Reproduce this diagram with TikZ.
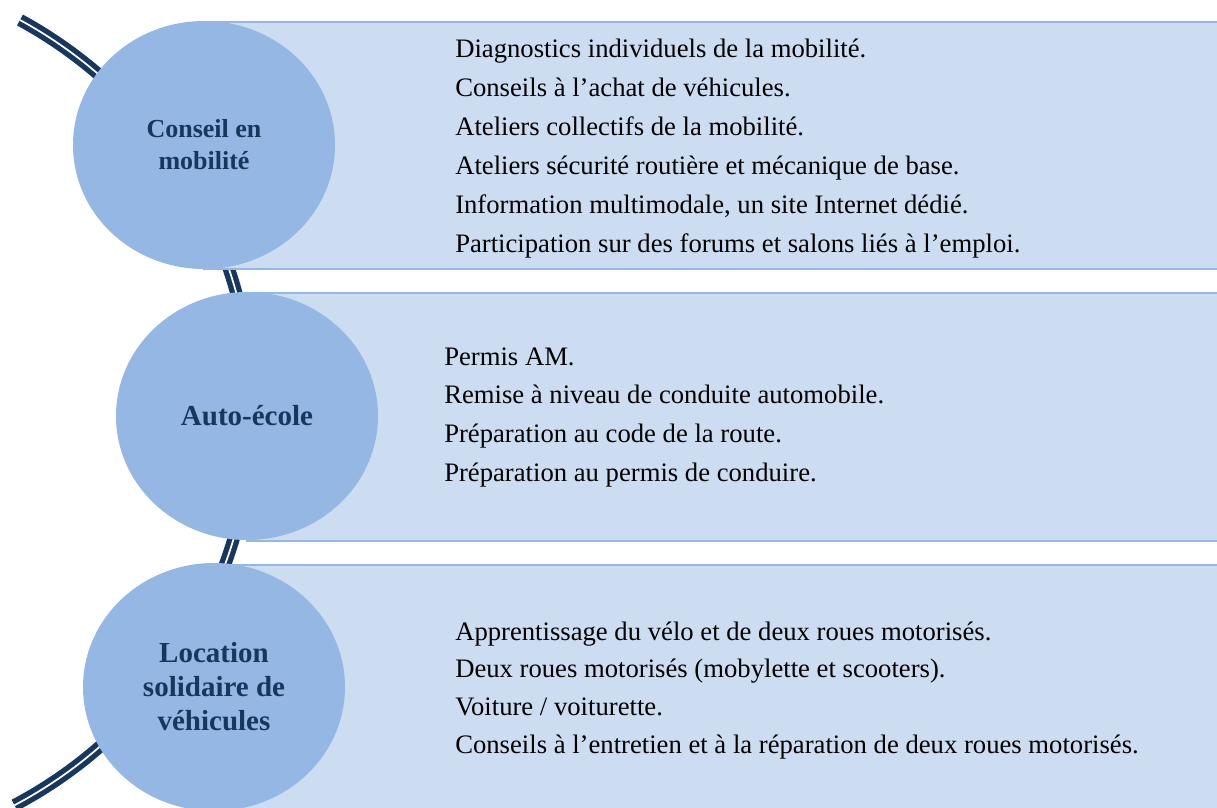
\documentclass[tikz,border=0pt]{standalone}
\usepackage{fontspec}
\setmainfont{Liberation Serif}
\definecolor{navy}{RGB}{23, 55, 94}
\definecolor{midblue}{RGB}{149, 183, 227}
\definecolor{paleblue}{RGB}{204, 221, 242}
\colorlet{titlecolor}{navy}
\usetikzlibrary{
  calc,
  positioning,
  shapes.geometric,
}
\tikzset{
  bubble/.style={ellipse, fill=midblue, text=titlecolor, align=center,
    minimum width=196.5pt, minimum height=186pt, inner sep=0pt,
    font=\bfseries\fontsize{21.75pt}{25.5pt}\selectfont},
  band/.style={fill=paleblue, draw=midblue, line width=2pt},
  item/.style={anchor=base west, inner sep=0pt,
    font=\fontsize{20pt}{24pt}\selectfont},
  spine/.style={draw=navy, line width=4pt, double=white,
    double distance=1.3pt},
}

\begin{document}
\begin{tikzpicture}[x=0.75pt, y=-0.75pt]
  \useasboundingbox (0,0) rectangle (1217,807);
  \clip (0,0) rectangle (1217,807);
  % spine behind everything
  \draw [spine] (20,20) arc [start angle=-61.4, end angle=62.2, radius=445.5];
  % bands
  \draw [band] (204,22) rectangle (1240,269);
  \draw [band] (247,293) rectangle (1240,541);
  \draw [band] (214,565) rectangle (1240,830);
  % bubbles
  \node [bubble, font=\bfseries\fontsize{19.5pt}{24pt}\selectfont]
        (conseil) at (204,145) {Conseil en\\mobilité};
  \node [bubble] (autoecole) at (247,416) {Auto-école};
  \node [bubble] (location) at (214,687) {Location\\solidaire de\\véhicules};
  % items
  \foreach \txt [count=\i] in {
      Diagnostics individuels de la mobilité.,
      Conseils à l’achat de véhicules.,
      Ateliers collectifs de la mobilité.,
      Ateliers sécurité routière et mécanique de base.,
      {Information multimodale, un site Internet dédié.},
      Participation sur des forums et salons liés à l’emploi.}
    \node [item] (conseil-\i) at (455, {57+39*(\i-1)}) {\txt};
  \foreach \txt [count=\i] in {
      Permis AM.,
      Remise à niveau de conduite automobile.,
      Préparation au code de la route.,
      Préparation au permis de conduire.}
    \node [item] (autoecole-\i) at (444, {365+38.7*(\i-1)}) {\txt};
  \foreach \txt [count=\i] in {
      Apprentissage du vélo et de deux roues motorisés.,
      Deux roues motorisés (mobylette et scooters).,
      Voiture / voiturette.,
      Conseils à l’entretien et à la réparation de deux roues motorisés.}
    \node [item] (location-\i) at (455, {640+37.7*(\i-1)}) {\txt};
\end{tikzpicture}
\end{document}
